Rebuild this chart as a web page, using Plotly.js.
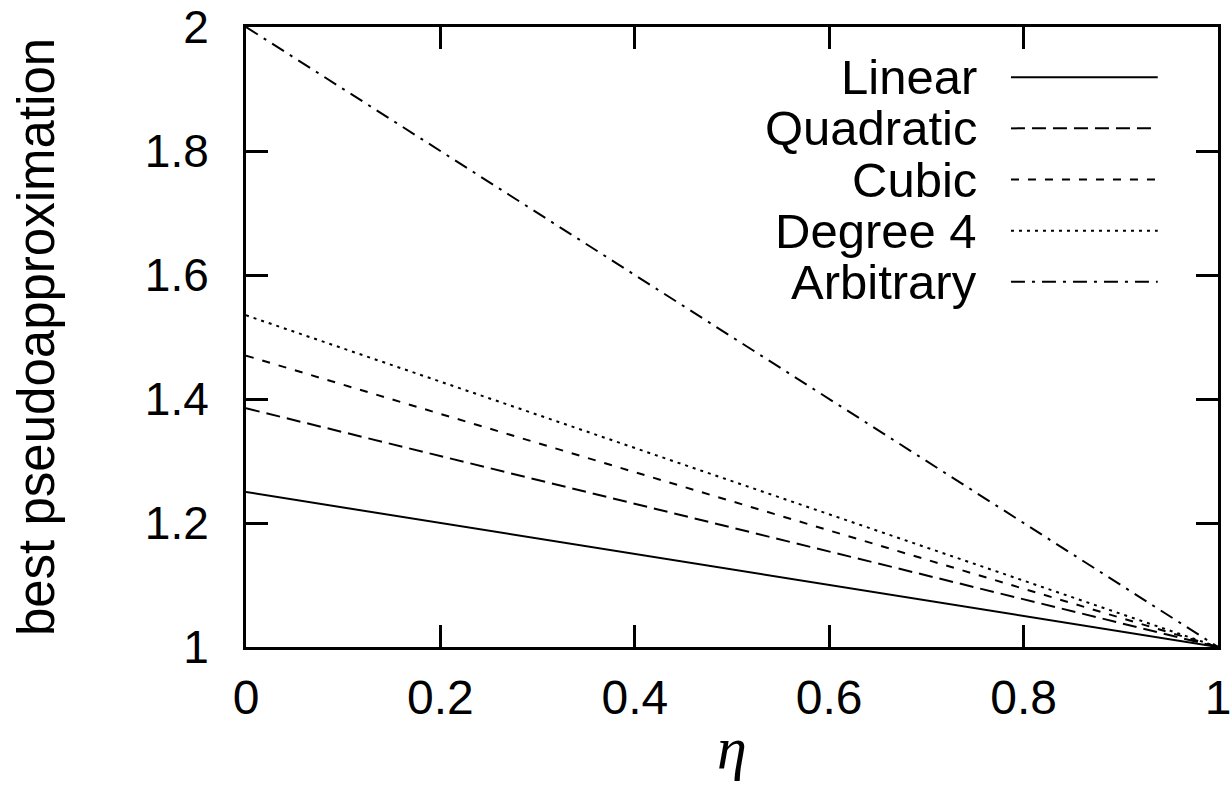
<!DOCTYPE html>
<html>
<head>
<meta charset="utf-8">
<script src="https://cdn.plot.ly/plotly-3.0.1.min.js"></script>
<style>html,body{margin:0;padding:0;background:#fff;}#chart{width:1230px;height:797px;}</style>
</head>
<body>
<div id="chart"></div>
<script>
// Data (each curve is a straight line ending at (1, 1))
const seriesNames = ["Linear", "Quadratic", "Cubic", "Degree 4", "Arbitrary"];
const etaValues = [0, 1];
const linearValues = [1.25, 1];
const quadraticValues = [1.385, 1];
const cubicValues = [1.47, 1];
const degree4Values = [1.535, 1];
const arbitraryValues = [2, 1];
const xTickValues = [0, 0.2, 0.4, 0.6, 0.8, 1];
const xTickLabels = ["0", "0.2", "0.4", "0.6", "0.8", "1"];
const yTickValues = [1, 1.2, 1.4, 1.6, 1.8, 2];
const yTickLabels = ["1", "1.2", "1.4", "1.6", "1.8", "2"];

const seriesValues = [linearValues, quadraticValues, cubicValues, degree4Values, arbitraryValues];
const dashes = ["solid", "14px,7px", "8px,9px", "3px,5px", "14px,7px,3px,7px"];

const FONT = "Liberation Sans, Arial, Helvetica, sans-serif";

const traces = seriesNames.map((name, i) => ({
  x: etaValues,
  y: seriesValues[i],
  name: name,
  type: "scatter",
  mode: "lines",
  line: {color: "#000", width: 2, dash: dashes[i]},
  showlegend: false,
  hoverinfo: "skip"
}));

// Gnuplot-style key: text right-aligned, line sample to the right
const keyTop = 0.919, keyStep = 0.0825;
const annotations = [];
const shapes = [];
seriesNames.forEach((name, i) => {
  const yy = keyTop - i * keyStep;
  annotations.push({
    xref: "paper", yref: "paper", x: 0.754, y: yy,
    xanchor: "right", yanchor: "middle", showarrow: false,
    text: name, font: {family: FONT, size: 49, color: "#000"}
  });
  shapes.push({
    type: "line", xref: "paper", yref: "paper",
    x0: 0.787, x1: 0.938, y0: yy, y1: yy,
    line: {color: "#000", width: 2, dash: dashes[i]}
  });
});

const axisCommon = {
  showline: true, linecolor: "#000", linewidth: 3, mirror: "allticks",
  ticks: "inside", ticklen: 22, tickwidth: 3, tickcolor: "#000",
  showgrid: false, zeroline: false,
  ticklabeloverflow: "allow",
  tickfont: {family: FONT, size: 46, color: "#000"}
};

const layout = {
  width: 1230, height: 797,
  paper_bgcolor: "#fff", plot_bgcolor: "#fff",
  margin: {l: 246, r: 12, t: 27, b: 150},
  showlegend: false,
  xaxis: Object.assign({}, axisCommon, {
    range: [0, 1], tickmode: "array", tickvals: xTickValues, ticktext: xTickLabels,
    ticklabelstandoff: 6,
    tickfont: {family: FONT, size: 48, color: "#000"},
    title: {text: "<i>η</i>", font: {family: "Liberation Serif, DejaVu Serif, serif", size: 60, color: "#000"}, standoff: 4}
  }),
  yaxis: Object.assign({}, axisCommon, {
    range: [1, 2], tickmode: "array", tickvals: yTickValues, ticktext: yTickLabels,
    ticklabelstandoff: 25,
    title: {text: "best pseudoapproximation", font: {family: FONT, size: 51, color: "#000"}, standoff: 74}
  }),
  annotations: annotations,
  shapes: shapes
};

Plotly.newPlot("chart", traces, layout, {displayModeBar: false, staticPlot: true});
</script>
</body>
</html>
